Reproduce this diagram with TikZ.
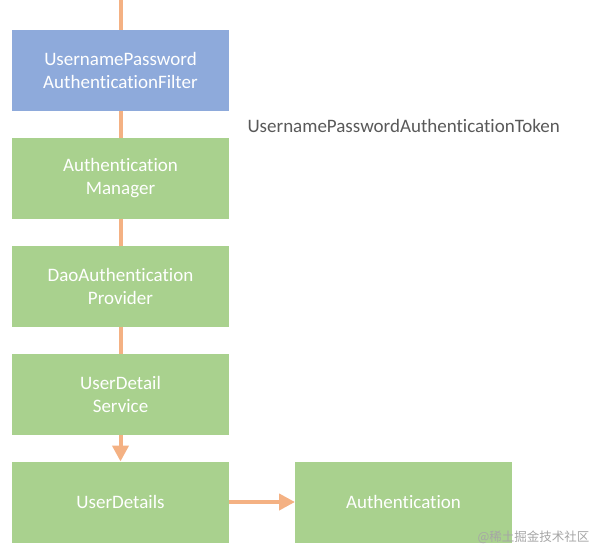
\documentclass[tikz,border=0pt]{standalone}
\usepackage{fontspec}
\setmainfont{Carlito}[Ligatures={NoCommon}]
\newfontfamily\cjkfont{Noto Sans CJK SC}
\usetikzlibrary{arrows.meta,positioning}
\definecolor{flowblue}{RGB}{142,170,219}
\definecolor{flowgreen}{RGB}{169,209,142}
\definecolor{floworange}{RGB}{244,177,131}
\definecolor{tokengray}{RGB}{89,89,89}

\begin{document}
\begin{tikzpicture}[x=1pt,y=1pt,node distance=27pt,every node/.style={font=\fontsize{19}{23}\selectfont,align=center}]
        \useasboundingbox (0,0) rectangle (597,-549);
        \fill[white] (0,0) rectangle (597,-549);
        \tikzset{box/.style={fill=flowgreen,text=white,inner sep=0pt,outer sep=0pt,minimum width=217pt,minimum height=81pt},
          link/.style={draw=floworange,line width=4pt},
          flow/.style={link,-{Triangle[length=16pt,width=16pt]}}}
        \node[box,fill=flowblue] (filter) at (120.5,-70) {UsernamePassword\\AuthenticationFilter};
        \node[box,below=of filter] (manager) {Authentication\\Manager};
        \node[box,below=of manager] (provider) {DaoAuthentication\\Provider};
        \node[box,below=of provider] (service) {UserDetail\\Service};
        \node[box,below=of service] (details) {UserDetails};
        \node[box,right=66pt of details] (auth) {Authentication};
        \node[text=tokengray,anchor=west] (token) at (244,-126) {UsernamePasswordAuthenticationToken};
        \node[text=black!35,font=\cjkfont\fontsize{12.5}{14}\selectfont,anchor=east] (mark) at (593,-537) {@稀土掘金技术社区};
        \coordinate (entry) at (120.5,0);
        \draw[link] (entry)--(filter);
        \draw[link] (filter)--(manager);
        \draw[link] (manager)--(provider);
        \draw[link] (provider)--(service);
        \draw[flow] (service)--(details);
        \draw[flow] (details)--(auth);
      \end{tikzpicture}
\end{document}
